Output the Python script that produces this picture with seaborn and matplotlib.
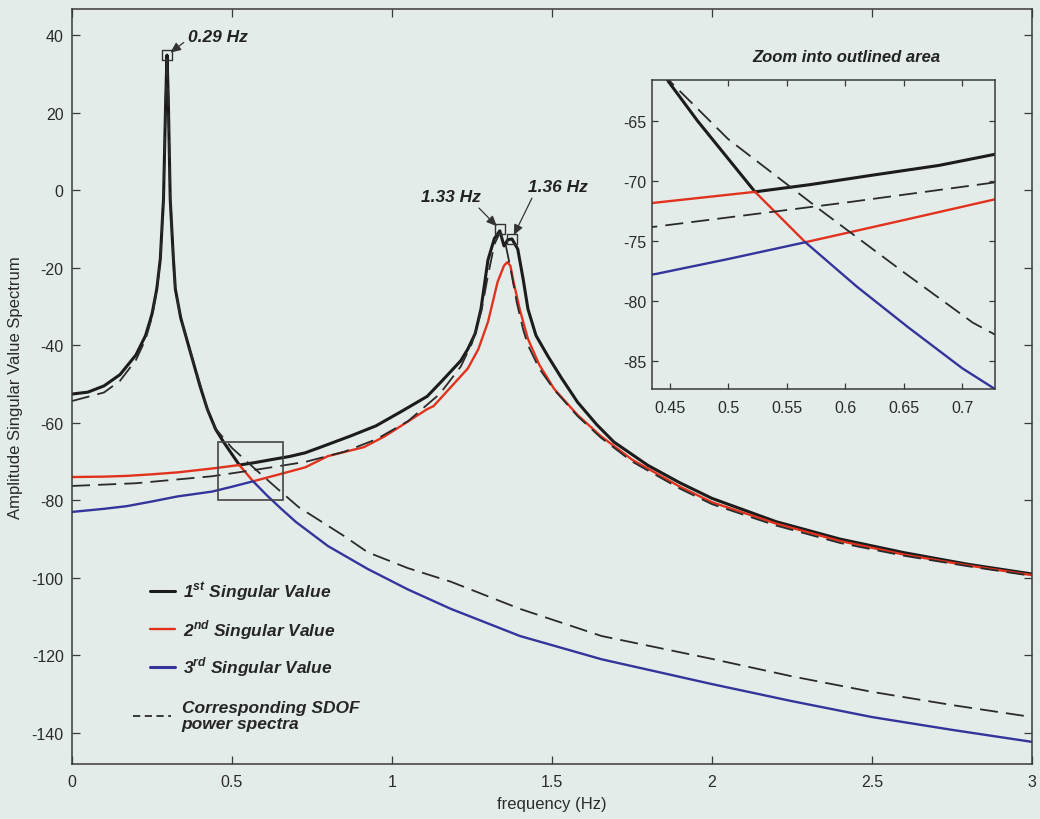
import numpy as np
import pandas as pd
import matplotlib
matplotlib.use("Agg")
import matplotlib.pyplot as plt
import seaborn as sns
from matplotlib.patches import Rectangle
from matplotlib.lines import Line2D

# ---------------- data ----------------
sv1_f = [0, 0.05, 0.1, 0.15, 0.2, 0.23, 0.25, 0.265, 0.276, 0.286, 0.293, 0.297, 0.301, 0.307,
         0.317, 0.323, 0.34, 0.37, 0.4, 0.423, 0.449, 0.474, 0.523, 0.57, 0.624, 0.68, 0.729,
         0.777, 0.871, 0.95, 1.027, 1.11, 1.153, 1.215, 1.237, 1.26, 1.278, 1.30, 1.32, 1.337,
         1.35, 1.362, 1.375, 1.393, 1.41, 1.425, 1.45, 1.487, 1.53, 1.58, 1.64, 1.694, 1.8, 1.9,
         2.0, 2.2, 2.4, 2.6, 2.8, 3.0]
sv1_db = [-52.6, -52.1, -50.5, -47.6, -42.5, -37.5, -32, -25.5, -17.8, -2.3, 23.5, 34.8, 23.5, -2.3,
          -17.8, -25.5, -33, -41.8, -50.5, -56.5, -61.7, -65, -70.9, -70.3, -69.5, -68.7, -67.75,
          -66.3, -63.4, -60.8, -57.2, -53.2, -49.5, -44, -41, -37, -30.7, -18, -12.5, -10.5,
          -14.4, -12.8, -12.6, -15.2, -23, -30.7, -37.5, -42.8, -48.5, -54.7, -60.5, -65, -71, -75.5,
          -79.5, -85.5, -90, -93.5, -96.5, -99]

sv2_f = [0, 0.1, 0.172, 0.25, 0.33, 0.438, 0.523, 0.566, 0.648, 0.729, 0.8, 0.912, 0.975, 1.006,
         1.11, 1.13, 1.215, 1.237, 1.27, 1.30, 1.33, 1.35, 1.36, 1.37, 1.38, 1.40, 1.425, 1.46,
         1.507, 1.58, 1.652, 1.75, 1.9, 2.0, 2.2, 2.4, 2.6, 2.8, 3.0]
sv2_db = [-74, -73.9, -73.7, -73.3, -72.8, -71.8, -70.9, -75.1, -73.3, -71.5, -68.6, -66.3, -63.6, -62,
          -56.5, -55.7, -48, -46, -41, -34, -23.7, -19.5, -18.6, -19.5, -23.7, -31, -38.4, -45,
          -51.3, -58, -63.4, -69.5, -76.5, -80.5, -86, -90.5, -94, -96.8, -99.3]

sv3_f = [0, 0.1, 0.172, 0.25, 0.33, 0.438, 0.5, 0.566, 0.61, 0.654, 0.7, 0.8, 0.924, 1.05, 1.184,
         1.4, 1.655, 2.0, 2.25, 2.5, 2.75, 3.0]
sv3_db = [-83, -82.2, -81.5, -80.3, -79, -77.75, -76.5, -75.1, -78.8, -82.2, -85.6, -91.8, -97.7, -103,
          -108, -115, -121, -127.4, -131.8, -135.9, -139.2, -142.3]

sdof1_f = [0, 0.1, 0.15, 0.2, 0.23, 0.25, 0.265, 0.276, 0.286, 0.293, 0.297, 0.301, 0.307, 0.317,
           0.323, 0.34, 0.37, 0.423, 0.451, 0.5, 0.58, 0.65, 0.709, 0.85, 0.924, 1.05, 1.184, 1.4,
           1.655, 2.0, 2.25, 2.5, 2.75, 3.0]
sdof1_db = [-54.4, -52.2, -49.2, -43.8, -38.5, -32.8, -26, -18.2, -2.6, 23.3, 34.6, 23.3, -2.6, -18.2,
            -25.8, -33, -41.5, -56.5, -61.75, -66.5, -72.5, -77.6, -81.8, -89.2, -93.4, -97.5,
            -101, -108, -115, -120.9, -125.4, -129.4, -132.8, -135.9]

sdof2_f = [0, 0.2, 0.438, 0.6, 0.729, 0.85, 0.95, 1.05, 1.15, 1.215, 1.25, 1.28, 1.30, 1.32, 1.337,
           1.355, 1.37, 1.39, 1.41, 1.425, 1.46, 1.507, 1.58, 1.652, 1.75, 1.9, 2.0, 2.2, 2.4, 2.6,
           2.8, 3.0]
sdof2_db = [-76.3, -75.6, -73.8, -71.8, -70.1, -67.5, -64.3, -59.6, -52.5, -45.5, -39.5, -31, -22, -14,
            -11, -14, -20, -29, -36, -40, -46, -51.5, -58.3, -63.8, -70, -77, -81, -86.5, -91, -94.3,
            -97, -99.5]

peak_f = [0.297, 1.337, 1.375]
peak_db = [34.8, -10.1, -12.6]
peak_labels = ["0.29 Hz", "1.33 Hz", "1.36 Hz"]

zoom_box_f = [0.455, 0.661]
zoom_box_db = [-80, -65]

x_ticks = [0, 0.5, 1, 1.5, 2, 2.5, 3]
x_tick_labels = ["0", "0.5", "1", "1.5", "2", "2.5", "3"]
y_ticks = [40, 20, 0, -20, -40, -60, -80, -100, -120, -140]
inset_x_ticks = [0.45, 0.5, 0.55, 0.6, 0.65, 0.7]
inset_x_tick_labels = ["0.45", "0.5", "0.55", "0.6", "0.65", "0.7"]
inset_y_ticks = [-65, -70, -75, -80, -85]

# ---------------- style ----------------
sns.set_theme(style="ticks")
plt.rcParams['font.family'] = ['Liberation Sans', 'DejaVu Sans']
plt.rcParams['mathtext.fontset'] = 'custom'
plt.rcParams['mathtext.bf'] = 'Liberation Sans:italic:bold'
plt.rcParams['mathtext.rm'] = 'Liberation Sans'
plt.rcParams['axes.unicode_minus'] = False

BG = "#e3ece9"
BLACK = "#1c1c1c"
RED = "#e2321e"
BLUE = "#34349c"
DASH = "#2a2a2a"
SPINE = "#3a3a3a"

fig = plt.figure(figsize=(10.4, 8.2), dpi=100, facecolor=BG)

series = [
    (sv1_f, sv1_db, BLACK, 2.2, "-"),
    (sv2_f, sv2_db, RED, 1.7, "-"),
    (sv3_f, sv3_db, BLUE, 1.7, "-"),
    (sdof1_f, sdof1_db, DASH, 1.3, "--"),
    (sdof2_f, sdof2_db, DASH, 1.3, "--"),
]


def draw_series(ax):
    lines = []
    for f, d, c, lw, ls in series:
        df = pd.DataFrame({"freq": f, "db": d})
        sns.lineplot(data=df, x="freq", y="db", ax=ax, color=c, lw=lw, sort=False,
                     estimator=None, legend=False)
        ln = ax.get_lines()[-1]
        if ls == "--":
            ln.set_dashes((10, 4.5))
        lines.append(ln)
    return lines


def style_axes(ax, ticklen, pad_x, pad_y):
    ax.set_facecolor(BG)
    for s in ax.spines.values():
        s.set_color(SPINE)
        s.set_linewidth(1.1)
        s.set_visible(True)
    ax.tick_params(axis="both", direction="in", length=ticklen, width=0.9, color=SPINE,
                   top=True, right=True, labelsize=11.5, labelcolor="#2b2b2b")
    ax.tick_params(axis="x", pad=pad_x)
    ax.tick_params(axis="y", pad=pad_y)
    ax.set_xlabel("")
    ax.set_ylabel("")


# ---------------- main axes ----------------
ax = fig.add_axes([0.0692, 0.0671, 0.9231, 0.9207])
lines = draw_series(ax)
ax.set_xlim(0, 3)
ax.set_ylim(-148, 46.7)
ax.set_xticks(x_ticks)
ax.set_xticklabels(x_tick_labels)
ax.set_yticks(y_ticks)
style_axes(ax, 6, 7, 6)

ax.set_xlabel("frequency (Hz)", fontsize=12, color="#2b2b2b", labelpad=5)
ax.set_ylabel("Amplitude Singular Value Spectrum", fontsize=12, color="#2b2b2b", labelpad=6)

sns.scatterplot(x=peak_f, y=peak_db, ax=ax, marker="s", s=55, facecolor="none",
                edgecolor="#333333", linewidth=1.0, legend=False, zorder=5)

ax.add_patch(Rectangle((zoom_box_f[0], zoom_box_db[0]), zoom_box_f[1] - zoom_box_f[0],
                       zoom_box_db[1] - zoom_box_db[0], fill=False, edgecolor="#444444",
                       lw=1.2, zorder=6))

ann_font = dict(fontsize=12.5, fontweight="bold", fontstyle="italic", color="#222222")
arrow = dict(arrowstyle="-|>,head_length=0.5,head_width=0.22", color="#333333", lw=0.9,
             shrinkA=1, shrinkB=3)
ax.annotate(peak_labels[0], xy=(peak_f[0], peak_db[0]), xytext=(0.363, 39.7),
            ha="left", va="center", arrowprops=dict(arrow, relpos=(0.0, 0.3)), **ann_font)
ax.annotate(peak_labels[1], xy=(peak_f[1], peak_db[1]), xytext=(1.184, -1.6),
            ha="center", va="center", arrowprops=dict(arrow, relpos=(0.9, 0.0)), **ann_font)
ax.annotate(peak_labels[2], xy=(peak_f[2], peak_db[2]), xytext=(1.519, 1.0),
            ha="center", va="center", arrowprops=dict(arrow, relpos=(0.1, 0.0)), **ann_font)

# legend
leg_font = dict(size=12.5, weight="bold", style="italic")
h1 = [Line2D([], [], color=BLACK, lw=2.2), Line2D([], [], color=RED, lw=1.7),
      Line2D([], [], color=BLUE, lw=2.2)]
l1 = [r"1$^{\mathbf{st}}$ Singular Value", r"2$^{\mathbf{nd}}$ Singular Value",
      r"3$^{\mathbf{rd}}$ Singular Value"]
leg1 = ax.legend(h1, l1, loc="upper left", bbox_to_anchor=(150 / 1040, 1 - 581 / 820),
                 bbox_transform=fig.transFigure, frameon=False, prop=leg_font,
                 borderpad=0, borderaxespad=0, handlelength=1.45, handletextpad=0.45,
                 labelspacing=0.8, labelcolor="#262626")
ax.add_artist(leg1)
h2 = [Line2D([], [], color=DASH, lw=1.3, dashes=(4, 2.5))]
leg2 = ax.legend(h2, ["Corresponding SDOF\npower spectra"], loc="upper left",
                 bbox_to_anchor=(133 / 1040, 1 - 701 / 820), bbox_transform=fig.transFigure,
                 frameon=False, prop=leg_font, borderpad=0, borderaxespad=0,
                 handlelength=2.2, handletextpad=0.6, labelcolor="#262626")
for t in leg2.get_texts():
    t.set_linespacing(1.1)

# ---------------- inset ----------------
axin = fig.add_axes([652 / 1040, 1 - 390 / 820, 343 / 1040, 309 / 820])
draw_series(axin)
axin.set_xlim(0.435, 0.728)
axin.set_ylim(-87.33, -61.58)
axin.set_xticks(inset_x_ticks)
axin.set_xticklabels(inset_x_tick_labels)
axin.set_yticks(inset_y_ticks)
style_axes(axin, 4, 8, 4)

fig.text(846 / 1040, 1 - 57 / 820, "Zoom into outlined area", ha="center", va="center",
         fontsize=12, fontweight="bold", fontstyle="italic", color="#222222")

fig.savefig("out.png", dpi=100, facecolor=BG)
